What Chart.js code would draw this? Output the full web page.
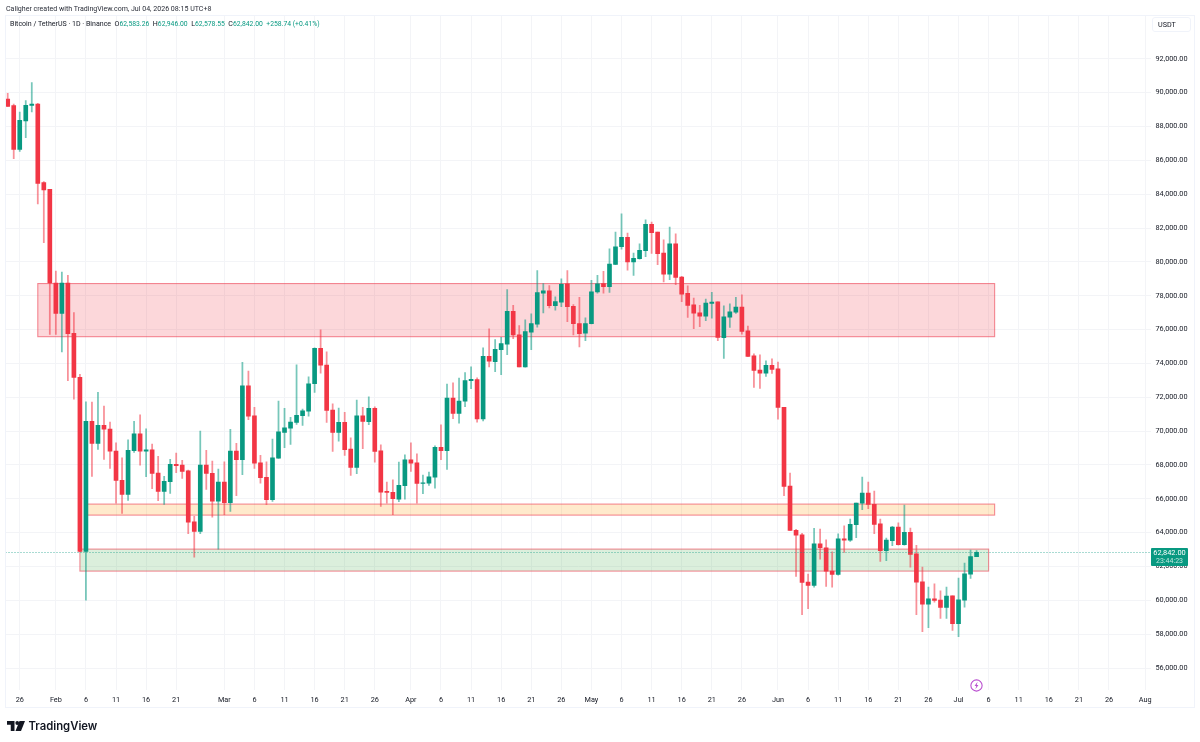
<!DOCTYPE html>
<html>
<head>
    <title>BTCUSDT 1D</title>
    <style>
        html, body { margin: 0; padding: 0; background: #fff; width: 1200px; height: 742px; overflow: hidden; }
        body { font-family: Roboto, sans-serif; color: #131722; position: relative; }
        canvas { position: absolute; left: 0; top: 0; }
        #frame { position: absolute; left: 5px; top: 15px; width: 1190px; height: 693px; box-sizing: border-box; border: 1px solid #f0f3fa; }
        #credit { position: absolute; left: 6px; top: 3.5px; font-size: 7.05px; color: #2a2e39; }
        #legend { position: absolute; left: 10px; top: 19px; font-size: 7.05px; color: #131722; white-space: pre; }
        #legend b { font-weight: 400; font-size: 6.8px; color: #089981; }
        #unit { position: absolute; left: 1152px; top: 17px; width: 39px; height: 15px; box-sizing: border-box; border: 1px solid #f0f3fa; border-radius: 3px; font-size: 7.2px; line-height: 14px; padding-left: 5px; color: #131722; }
        #last { position: absolute; left: 1151px; top: 547.5px; width: 37px; height: 18px; background: #089981; color: #fff; border-radius: 1px; font-size: 7.4px; line-height: 8px; padding-top: 1px; box-sizing: border-box; text-align: center; }
        #last span { color: #bfe6dd; font-size: 7px; display: block; }
        #bolt { position: absolute; left: 969.5px; top: 678.5px; }
        #logo { position: absolute; left: 6.5px; top: 719px; display: flex; align-items: center; font: 600 11.3px Inter, Roboto, sans-serif; color: #131722; }
        #logo svg { margin-right: 4px; }
    </style>
</head>

<body>
    <canvas id="chart" width="1200" height="742"></canvas>
    <div id="frame"></div>
    <div id="credit">Caligher created with TradingView.com, Jul 04, 2026 08:15 UTC+8</div>
    <div id="legend">Bitcoin / TetherUS · 1D · Binance  O<b>62,583.26</b>  H<b>62,946.00</b>  L<b>62,578.55</b>  C<b>62,842.00</b>  <b>+258.74 (+0.41%)</b></div>
    <div id="unit">USDT</div>
    <div id="last">62,842.00<span>23:44:23</span></div>
    <svg id="bolt" width="13" height="13" viewBox="0 0 12 12">
        <circle cx="6" cy="6" r="5.2" fill="#fff" stroke="#ba4fd0" stroke-width="1"/>
        <path d="M7 2.6 4.2 6.4H5.8L5 9.4 7.8 5.6H6.2Z" fill="#ba4fd0"/>
    </svg>
    <div id="logo">
        <svg width="18" height="10" viewBox="0 0 36 20"><path d="M0 0H15V20H7.5V7.5H0Z M17 20 25 0H36L28 20Z" fill="#131722"/><circle cx="20.5" cy="4" r="3.8" fill="#131722"/></svg>
        TradingView
    </div>

    <script src="https://cdn.jsdelivr.net/npm/chart.js@4.4.3/dist/chart.umd.js"></script>

    <script>
        // daily BTC/USDT candles, one entry per day starting Jan 24
        const opens = [
            89626, 89232, 86651, 88325, 89250, 89330, 84680, 84290, 78751, 76959,
            78751, 75777, 73173, 62889, 70572, 69272, 70336, 70119, 68819, 67085,
            66258, 68839, 69843, 68819, 68898, 67519, 66435, 67006, 68031, 67991,
            67656, 64643, 64071, 67991, 67499, 65864, 66987, 65765, 68819, 68307,
            72680, 70907, 68130, 67263, 65943, 68405, 69922, 70178, 70513, 70907,
            71183, 72798, 74887, 73901, 71242, 69922, 70513, 68937, 67854, 70907,
            70552, 71341, 68839, 66435, 66376, 65982, 66770, 68307, 68130, 66908,
            66928, 67282, 69036, 68839, 71951, 71045, 71765, 72987, 73046, 70720,
            74425, 74110, 74819, 75134, 77084, 75686, 73795, 75843, 76316, 78148,
            78286, 77419, 77616, 78700, 77380, 76356, 75784, 76356, 78227, 78720,
            78533, 79853, 80897, 81448, 79991, 80188, 80660, 82217, 81764, 80523,
            79281, 81074, 79104, 78139, 77469, 76996, 76799, 77548, 77646, 75518,
            76740, 77036, 77331, 75932, 74455, 73608, 73430, 73884, 73687, 71399,
            66750, 64129, 63873, 61076, 60879, 63341, 63105, 61726, 61529, 63637,
            63558, 64464, 65745, 66336, 65666, 64523, 62927, 63519, 64326, 63282,
            64011, 62750, 61096, 59776, 60091, 60012, 59579, 60268, 58613, 60012,
            61549, 62583.26
        ];
        const highs = [
            89960, 89330, 88857, 89527, 90591, 89370, 84740, 84290, 79460, 79400,
            79204, 77000, 73350, 71735, 71715, 72286, 71478, 70533, 69311, 68425,
            69489, 70572, 70966, 70139, 69233, 68504, 67322, 68326, 68701, 68267,
            67696, 64957, 70000, 68858, 68228, 67755, 68189, 70100, 69272, 74059,
            73547, 71400, 68563, 68189, 69528, 71774, 71340, 70809, 73921, 71301,
            73212, 74926, 75990, 74690, 71616, 71360, 71104, 69607, 71833, 71400,
            72030, 71439, 69193, 66987, 67125, 68169, 68602, 69311, 68661, 67400,
            67578, 69134, 70375, 72779, 72857, 73133, 73460, 73795, 73144, 74917,
            76040, 75410, 75548, 78365, 77439, 76237, 76572, 76927, 79488, 78719,
            78601, 77931, 78995, 79488, 77478, 77912, 76690, 78916, 79212, 79448,
            80779, 81764, 82847, 81705, 80523, 81074, 82493, 82355, 81764, 81310,
            82059, 81665, 79143, 78592, 77863, 77430, 77804, 78198, 77646, 77410,
            77528, 77902, 78060, 76208, 74573, 74514, 74160, 74278, 74081, 71400,
            67518, 64200, 63952, 61549, 64247, 64208, 63578, 62869, 63932, 64405,
            64799, 65745, 67281, 66986, 66454, 64799, 63676, 64366, 64582, 65627,
            64267, 63243, 61962, 60780, 60977, 60564, 60780, 60268, 61313, 62199,
            62967, 62946
        ];
        const lows = [
            89190, 86100, 86533, 87340, 88857, 83420, 81135, 75717, 75717, 74673,
            72976, 71892, 62880, 60013, 67322, 68917, 68326, 67795, 65746, 65135,
            65903, 68740, 67990, 67302, 66593, 65884, 65667, 66317, 67538, 67204,
            63933, 62554, 63933, 66553, 64918, 63027, 65056, 65253, 66179, 67420,
            70670, 67795, 66928, 65647, 65844, 68385, 69016, 69213, 70395, 70336,
            70887, 72286, 73429, 70513, 68799, 69410, 68563, 67381, 67479, 68957,
            70375, 68169, 65549, 65746, 65056, 65825, 65982, 67617, 65746, 66297,
            66790, 66632, 68307, 67735, 70730, 70474, 71450, 72514, 70524, 70600,
            73795, 73519, 73341, 74523, 75469, 73795, 73775, 74819, 76139, 76986,
            77281, 77144, 77360, 76474, 75686, 74977, 75351, 76336, 78148, 78148,
            78198, 79833, 80759, 79518, 79203, 80168, 80306, 80503, 79833, 78809,
            78946, 78651, 77646, 76720, 76051, 76169, 76523, 76681, 75341, 74297,
            76129, 76957, 75735, 74396, 72583, 72524, 73233, 73410, 70709, 66178,
            64129, 61411, 59145, 59500, 60780, 62435, 60820, 60780, 61490, 62829,
            63479, 63696, 65351, 65410, 63932, 62297, 62336, 63223, 63262, 63262,
            61962, 59145, 58140, 58377, 59894, 58928, 58928, 58219, 57845, 59599,
            61293, 62578.55
        ];
        const closes = [
            89192, 86651, 88365, 89251, 89330, 84642, 84248, 78751, 76959, 78751,
            75757, 73173, 62889, 70572, 69272, 70336, 70119, 68819, 67085, 66258,
            68858, 69843, 68819, 68898, 67499, 66435, 67026, 68031, 67952, 67617,
            64623, 64071, 67991, 67499, 65864, 66987, 65765, 68819, 68307, 72680,
            70887, 68110, 67243, 65943, 68425, 69962, 70198, 70533, 70927, 71203,
            72798, 74887, 73901, 71222, 69922, 70513, 68898, 67854, 70907, 70572,
            71341, 68799, 66396, 66376, 66002, 66790, 68307, 68110, 66908, 66948,
            67302, 69036, 68839, 71951, 71045, 71774, 72987, 73066, 70720, 74425,
            74129, 74839, 75174, 77084, 75686, 73795, 75883, 76356, 78188, 78286,
            77419, 77656, 78680, 77360, 76356, 75765, 76356, 78237, 78710, 78542,
            79872, 80897, 81448, 79991, 80208, 80680, 82217, 81724, 80483, 79281,
            81074, 79084, 78099, 77430, 76976, 76799, 77567, 77626, 75538, 76760,
            77055, 77331, 75893, 74416, 73588, 73430, 73884, 73647, 71399, 66730,
            64129, 63854, 61056, 60879, 63341, 63105, 61726, 61529, 63637, 63558,
            64484, 65745, 66336, 65666, 64484, 62927, 63558, 64326, 63282, 64011,
            62711, 61076, 59776, 60091, 59992, 59579, 60249, 58613, 60032, 61568,
            62583.26, 62842
        ];

        // right-hand price axis
        const priceTicks = [56000, 58000, 60000, 62000, 64000, 66000, 68000, 70000, 72000, 74000,
            76000, 78000, 80000, 82000, 84000, 86000, 88000, 90000, 92000];

        // time axis, positions are days since Jan 24
        const dayTicks = [2, 8, 13, 18, 23, 28, 36, 41, 46, 51, 56, 61, 67, 72, 77, 82, 87, 92,
            97, 102, 107, 112, 117, 122, 128, 133, 138, 143, 148, 153, 158, 163, 168, 173, 178, 183, 189];
        const dayLabels = ['26', 'Feb', '6', '11', '16', '21', 'Mar', '6', '11', '16', '21', '26', 'Apr', '6', '11', '16', '21', '26',
            'May', '6', '11', '16', '21', '26', 'Jun', '6', '11', '16', '21', '26', 'Jul', '6', '11', '16', '21', '26', 'Aug'];

        // support / resistance boxes: first day, last day, top price, bottom price
        const resistanceZone = [5, 164, 78720, 75580];
        const yellowZone = [13, 164, 65687, 65036];
        const greenZone = [12, 163, 63027, 61727];
        const lastPrice = 62842;

        const UP = '#089981';
        const DOWN = '#f23645';
        const days = opens.map((_, i) => i);
        const candleColor = days.map(i => closes[i] >= opens[i] ? UP : DOWN);
        const wickColor = days.map(i => closes[i] >= opens[i] ? 'rgba(8,153,129,0.55)' : 'rgba(242,54,69,0.55)');

        const zonesPlugin = {
            id: 'zones',
            beforeDatasetsDraw(chart) {
                const { ctx, scales: { x, y } } = chart;
                const box = (zone, fill) => {
                    const left = x.getPixelForValue(zone[0]);
                    const top = y.getPixelForValue(zone[2]);
                    const w = x.getPixelForValue(zone[1]) - left;
                    const h = y.getPixelForValue(zone[3]) - top;
                    ctx.fillStyle = fill;
                    ctx.fillRect(left, top, w, h);
                    ctx.strokeStyle = 'rgba(236,64,82,0.6)';
                    ctx.lineWidth = 1.1;
                    ctx.strokeRect(left, top, w, h);
                };
                ctx.save();
                box(resistanceZone, 'rgba(242,54,69,0.2)');
                box(yellowZone, 'rgba(255,152,0,0.2)');
                box(greenZone, 'rgba(76,175,80,0.2)');
                ctx.restore();
            }
        };

        const lastLinePlugin = {
            id: 'lastLine',
            afterDatasetsDraw(chart) {
                const { ctx, chartArea, scales: { y } } = chart;
                const py = Math.round(y.getPixelForValue(lastPrice)) + 0.5;
                ctx.save();
                ctx.strokeStyle = UP;
                ctx.globalAlpha = 0.7;
                ctx.setLineDash([1, 2]);
                ctx.beginPath();
                ctx.moveTo(chartArea.left, py);
                ctx.lineTo(chartArea.right, py);
                ctx.stroke();
                ctx.restore();
            }
        };

        new Chart(document.getElementById('chart'), {
            type: 'bar',
            plugins: [zonesPlugin, lastLinePlugin],
            data: {
                datasets: [{
                    label: 'body',
                    data: days.map(i => ({ x: i, y: [opens[i], closes[i]] })),
                    backgroundColor: candleColor,
                    grouped: false,
                    barThickness: 4,
                    order: 1
                }, {
                    label: 'wick',
                    data: days.map(i => ({ x: i, y: [lows[i], highs[i]] })),
                    backgroundColor: wickColor,
                    grouped: false,
                    barThickness: 1.1,
                    order: 2
                }]
            },
            options: {
                responsive: false,
                animation: false,
                layout: { padding: { left: 5.5, top: 15.5, bottom: 34, right: 0 } },
                plugins: { legend: { display: false }, tooltip: { enabled: false } },
                scales: {
                    x: {
                        type: 'linear',
                        offset: false,
                        min: -0.366,
                        max: 189.9,
                        afterBuildTicks: axis => { axis.ticks = dayTicks.map(value => ({ value })); },
                        afterFit: axis => { axis.height = 18; },
                        grid: { color: '#f3f4f7', drawTicks: false, offset: false },
                        border: { display: false },
                        ticks: {
                            autoSkip: false,
                            maxRotation: 0,
                            padding: 6,
                            color: '#131722',
                            font: { family: 'Roboto', size: 7.3 },
                            callback: value => dayLabels[dayTicks.indexOf(value)]
                        }
                    },
                    y: {
                        position: 'right',
                        min: 54700,
                        max: 94561,
                        afterBuildTicks: axis => { axis.ticks = priceTicks.map(value => ({ value })); },
                        afterFit: axis => { axis.width = 49.5; },
                        grid: { color: '#f3f4f7', tickLength: 0 },
                        border: { display: false },
                        ticks: {
                            padding: 5,
                            crossAlign: 'near',
                            color: '#131722',
                            font: { family: 'Roboto', size: 7.3 },
                            callback: value => value.toLocaleString('en-US', { minimumFractionDigits: 2 })
                        }
                    }
                }
            }
        });
    </script>
</body>
</html>
